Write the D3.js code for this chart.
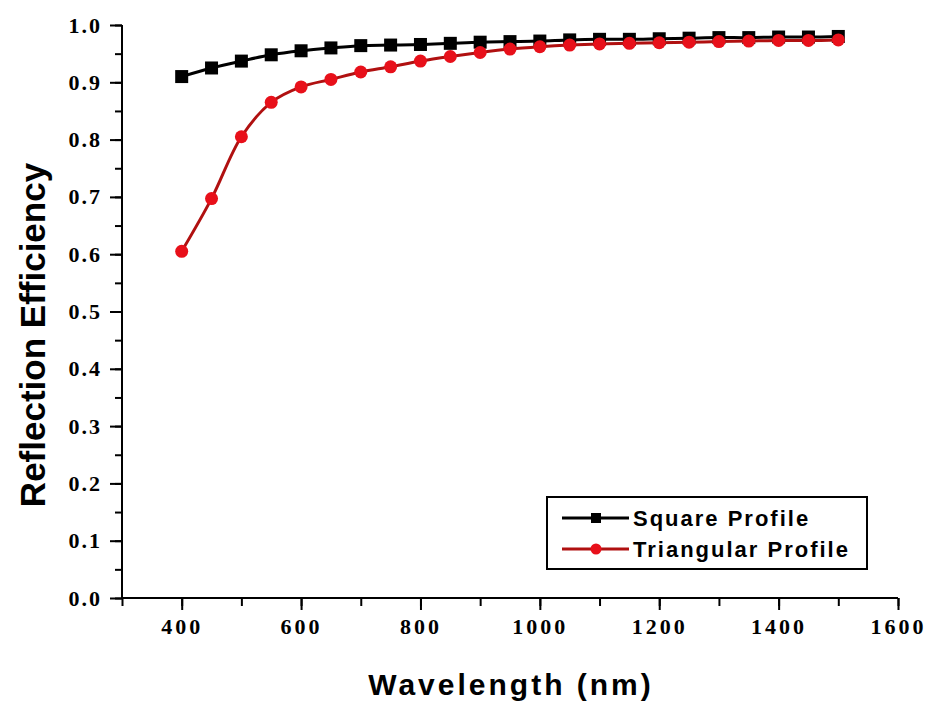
<!DOCTYPE html>
<html>
<head>
<meta charset="utf-8">
<script src="https://cdnjs.cloudflare.com/ajax/libs/d3/7.8.5/d3.min.js"></script>
<style>
  body { margin: 0; background: #fff; }
</style>
</head>
<body>
<div id="chart"></div>
<script>
// wavelengths (nm)
const wavelengths = [400, 450, 500, 550, 600, 650, 700, 750, 800, 850, 900, 950,
    1000, 1050, 1100, 1150, 1200, 1250, 1300, 1350, 1400, 1450, 1500];
// reflection efficiency, square grating profile
const squareProfile = [0.910, 0.925, 0.937, 0.948, 0.955, 0.960, 0.964, 0.965, 0.966, 0.968, 0.970, 0.971,
    0.972, 0.974, 0.975, 0.975, 0.976, 0.977, 0.978, 0.978, 0.979, 0.979, 0.980];
// reflection efficiency, triangular grating profile
const triangularProfile = [0.605, 0.697, 0.805, 0.865, 0.892, 0.905, 0.918, 0.927, 0.937, 0.945, 0.952, 0.958,
    0.962, 0.965, 0.967, 0.968, 0.969, 0.970, 0.971, 0.972, 0.973, 0.973, 0.974];
const xTicks = [400, 600, 800, 1000, 1200, 1400, 1600];
const yTicks = [0, 0.1, 0.2, 0.3, 0.4, 0.5, 0.6, 0.7, 0.8, 0.9, 1.0];

const W = 932, H = 704;
const svg = d3.select('#chart').append('svg')
    .attr('width', W)
    .attr('height', H);

// plot area
const plot = {left: 122, right: 898, top: 25, bottom: 598};

const x = d3.scaleLinear().domain([300, 1600]).range([plot.left, plot.right]);
const y = d3.scaleLinear().domain([0, 1]).range([plot.bottom, plot.top]);

const tickFont = 'bold 22px "Liberation Serif", "DejaVu Serif", serif';

// X axis: minor ticks, then major ticks with labels
svg.append('g')
    .attr('transform', `translate(0,${plot.bottom})`)
    .call(d3.axisBottom(x).tickValues(d3.range(300, 1601, 100)).tickSize(8).tickFormat(''))
    .call(g => g.select('.domain').remove())
    .call(g => g.selectAll('line').attr('stroke', '#000').attr('stroke-width', 2));

svg.append('g')
    .attr('transform', `translate(0,${plot.bottom})`)
    .call(d3.axisBottom(x).tickValues(xTicks).tickSize(12).tickPadding(8).tickFormat(d3.format('d')))
    .call(g => g.select('.domain').attr('stroke', '#000').attr('stroke-width', 2).attr('d', `M${plot.left},0H${plot.right}`))
    .call(g => g.selectAll('line').attr('stroke', '#000').attr('stroke-width', 2))
    .call(g => g.selectAll('text').style('font', tickFont).attr('fill', '#000').attr('letter-spacing', '3px'));

// Y axis: minor ticks, then major ticks with labels
svg.append('g')
    .attr('transform', `translate(${plot.left},0)`)
    .call(d3.axisLeft(y).tickValues(d3.range(0, 21).map(i => i * 0.05)).tickSize(7).tickFormat(''))
    .call(g => g.select('.domain').remove())
    .call(g => g.selectAll('line').attr('stroke', '#000').attr('stroke-width', 2));

svg.append('g')
    .attr('transform', `translate(${plot.left},0)`)
    .call(d3.axisLeft(y).tickValues(yTicks).tickSize(12).tickPadding(8).tickFormat(d3.format('.1f')))
    .call(g => g.select('.domain').attr('stroke', '#000').attr('stroke-width', 2).attr('d', `M0,${plot.bottom}V${plot.top}`))
    .call(g => g.selectAll('line').attr('stroke', '#000').attr('stroke-width', 2))
    .call(g => g.selectAll('text').style('font', tickFont).attr('fill', '#000').attr('letter-spacing', '2px'));

// axis titles
svg.append('text')
    .attr('x', 511)
    .attr('y', 695)
    .attr('text-anchor', 'middle')
    .attr('letter-spacing', '3px')
    .style('font', 'bold 30px "Liberation Sans", Arial, sans-serif')
    .text('Wavelength (nm)');

svg.append('text')
    .attr('transform', `translate(45,335) rotate(-90)`)
    .attr('text-anchor', 'middle')
    .style('font', 'bold 35px "Liberation Sans", Arial, sans-serif')
    .text('Reflection Efficiency');

// series
const sq = wavelengths.map((w, i) => [w, squareProfile[i]]);
const tri = wavelengths.map((w, i) => [w, triangularProfile[i]]);

const line = d3.line().x(d => x(d[0])).y(d => y(d[1])).curve(d3.curveCatmullRom);

svg.append('path')
    .datum(sq)
    .attr('fill', 'none')
    .attr('stroke', '#000')
    .attr('stroke-width', 3)
    .attr('d', line);

svg.selectAll('rect.sq')
    .data(sq)
    .enter()
    .append('rect')
    .attr('class', 'sq')
    .attr('x', d => x(d[0]) - 6.5)
    .attr('y', d => y(d[1]) - 6.5)
    .attr('width', 13)
    .attr('height', 13)
    .attr('fill', '#000');

svg.append('path')
    .datum(tri)
    .attr('fill', 'none')
    .attr('stroke', '#b01010')
    .attr('stroke-width', 3)
    .attr('d', line);

svg.selectAll('circle.tri')
    .data(tri)
    .enter()
    .append('circle')
    .attr('class', 'tri')
    .attr('cx', d => x(d[0]))
    .attr('cy', d => y(d[1]))
    .attr('r', 6.5)
    .attr('fill', '#e8101a');

// legend
const legend = svg.append('g').attr('transform', 'translate(547,497)');
legend.append('rect')
    .attr('width', 320)
    .attr('height', 72)
    .attr('fill', '#fff')
    .attr('stroke', '#000')
    .attr('stroke-width', 2);

const legendItems = [
    {label: 'Square Profile', color: '#000', mark: 'square'},
    {label: 'Triangular Profile', color: '#b01010', mark: 'circle'}
];
legendItems.forEach((item, i) => {
    const cy = 21 + i * 31;
    legend.append('line')
        .attr('x1', 15).attr('x2', 82)
        .attr('y1', cy).attr('y2', cy)
        .attr('stroke', item.color)
        .attr('stroke-width', 3);
    if (item.mark === 'square') {
        legend.append('rect')
            .attr('x', 44).attr('y', cy - 5)
            .attr('width', 10).attr('height', 10)
            .attr('fill', '#000');
    } else {
        legend.append('circle')
            .attr('cx', 49).attr('cy', cy)
            .attr('r', 5.5)
            .attr('fill', '#e8101a');
    }
    legend.append('text')
        .attr('x', 86)
        .attr('y', cy + 8)
        .attr('letter-spacing', '2px')
        .style('font', 'bold 22px "Liberation Sans", Arial, sans-serif')
        .text(item.label);
});
</script>
</body>
</html>
